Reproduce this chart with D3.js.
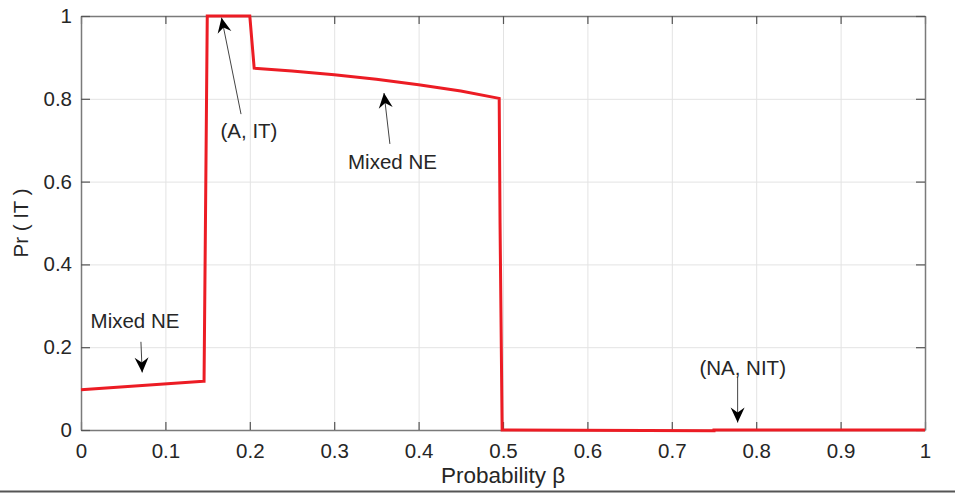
<!DOCTYPE html>
<html>
<head>
<meta charset="utf-8">
<script src="https://cdn.jsdelivr.net/npm/d3@7"></script>
<style>
  body { margin: 0; background: #fff; }
  svg text { font-family: "Liberation Sans", Arial, sans-serif; fill: #262626; }
</style>
</head>
<body>
<div class="chart"></div>
<script>
// curve
const beta = [0, 0.145, 0.1458, 0.1496, 0.2, 0.2052, 0.25, 0.3, 0.35, 0.4, 0.45, 0.4955, 0.4965, 0.499, 0.75, 0.75, 1];
const prIT = [0.097, 0.118, 0.118, 1, 1, 0.874, 0.867, 0.858, 0.847, 0.834, 0.819, 0.801, 0.5, 0, -0.002, 0, 0];

const xTicks = [0, 0.1, 0.2, 0.3, 0.4, 0.5, 0.6, 0.7, 0.8, 0.9, 1];
const yTicks = [0, 0.2, 0.4, 0.6, 0.8, 1];

// annotations: label, label position, arrow tail, arrow tip (data units)
const noteText = ["(A, IT)", "Mixed NE", "Mixed NE", "(NA, NIT)"];
const noteAt = [[0.199, 0.722], [0.369, 0.647], [0.064, 0.263], [0.784, 0.150]];
const noteTail = [[0.1896, 0.763], [0.366, 0.691], [0.0710, 0.213], [0.7780, 0.128]];
const noteTip = [[0.1665, 0.996], [0.359, 0.814], [0.0725, 0.139], [0.7780, 0.018]];

const width = 955, height = 493;
const margin = {left: 81, right: 30, top: 16, bottom: 63};
const w = width - margin.left - margin.right, h = height - margin.top - margin.bottom;

const x = d3.scaleLinear().domain([0, 1]).range([0, w]);
const y = d3.scaleLinear().domain([0, 1]).range([h, 0]);

const svg = d3.select(".chart").append("svg")
    .attr("width", width)
    .attr("height", height);

const g = svg.append("g")
    .attr("transform", "translate(" + [margin.left, margin.top] + ")");

// grid
g.append("g")
    .attr("transform", "translate(0," + h + ")")
    .call(d3.axisBottom(x).tickValues(xTicks).tickSize(-h).tickFormat(""))
    .call(s => s.select(".domain").remove())
    .call(s => s.selectAll("line").attr("stroke", "#e3e3e3").attr("stroke-width", 1));

g.append("g")
    .call(d3.axisLeft(y).tickValues(yTicks).tickSize(-w).tickFormat(""))
    .call(s => s.select(".domain").remove())
    .call(s => s.selectAll("line").attr("stroke", "#e3e3e3").attr("stroke-width", 1));

// box with inward ticks on all sides
function styleAxis(s){
  s.select(".domain").attr("stroke", "#7a7a7a").attr("stroke-width", 1.5);
  s.selectAll(".tick line").attr("stroke", "#555").attr("stroke-width", 1.2);
  s.selectAll("text").attr("font-size", 20.5).attr("fill", "#262626");
}

g.append("g")
    .attr("transform", "translate(0," + h + ")")
    .call(d3.axisBottom(x).tickValues(xTicks).tickSizeInner(-8).tickSizeOuter(0).tickPadding(13).tickFormat(d3.format("")))
    .call(styleAxis);

g.append("g")
    .call(d3.axisTop(x).tickValues(xTicks).tickSizeInner(-8).tickSizeOuter(0).tickFormat(""))
    .call(styleAxis);

g.append("g")
    .call(d3.axisLeft(y).tickValues(yTicks).tickSizeInner(-9).tickSizeOuter(0).tickPadding(9).tickFormat(d3.format("")))
    .call(styleAxis);

g.append("g")
    .attr("transform", "translate(" + w + ",0)")
    .call(d3.axisRight(y).tickValues(yTicks).tickSizeInner(-9).tickSizeOuter(0).tickFormat(""))
    .call(styleAxis);

// the curve
const line = d3.line()
    .x((d, i) => x(beta[i]))
    .y(d => y(d));

g.append("path")
    .datum(prIT)
    .attr("d", line)
    .attr("fill", "none")
    .attr("stroke", "#ec1c24")
    .attr("stroke-width", 3)
    .attr("stroke-linejoin", "miter");

// annotation arrows
function arrowHead(tail, tip){
  const x0 = x(tail[0]), y0 = y(tail[1]), x1 = x(tip[0]), y1 = y(tip[1]);
  const a = Math.atan2(y1 - y0, x1 - x0);
  const len = 15, half = 7, notch = 10;
  const p = (d, o) => [x1 - d * Math.cos(a) - o * Math.sin(a), y1 - d * Math.sin(a) + o * Math.cos(a)];
  return "M" + [x1, y1] + "L" + p(len, half) + "L" + p(notch, 0) + "L" + p(len, -half) + "Z";
}

const notes = g.selectAll("g.note")
    .data(noteText)
  .enter().append("g")
    .attr("class", "note");

notes.append("line")
    .attr("x1", (d, i) => x(noteTail[i][0]))
    .attr("y1", (d, i) => y(noteTail[i][1]))
    .attr("x2", (d, i) => x(noteTip[i][0]))
    .attr("y2", (d, i) => y(noteTip[i][1]))
    .attr("stroke", "#444")
    .attr("stroke-width", 1);

notes.append("path")
    .attr("d", (d, i) => arrowHead(noteTail[i], noteTip[i]))
    .attr("fill", "#000");

notes.append("text")
    .attr("x", (d, i) => x(noteAt[i][0]))
    .attr("y", (d, i) => y(noteAt[i][1]))
    .attr("dy", "0.35em")
    .attr("text-anchor", "middle")
    .attr("font-size", 20.5)
    .text(d => d);

// axis titles
svg.append("text")
    .attr("x", margin.left + w / 2)
    .attr("y", 483)
    .attr("text-anchor", "middle")
    .attr("font-size", 22.5)
    .text("Probability β");

svg.append("text")
    .attr("transform", "translate(28," + (margin.top + h / 2) + ") rotate(-90)")
    .attr("text-anchor", "middle")
    .attr("font-size", 20.5)
    .text("Pr ( IT )");

// frame line along the bottom edge
svg.append("line")
    .attr("x1", 0).attr("x2", width)
    .attr("y1", 491.5).attr("y2", 491.5)
    .attr("stroke", "#555")
    .attr("stroke-width", 2);
</script>
</body>
</html>
